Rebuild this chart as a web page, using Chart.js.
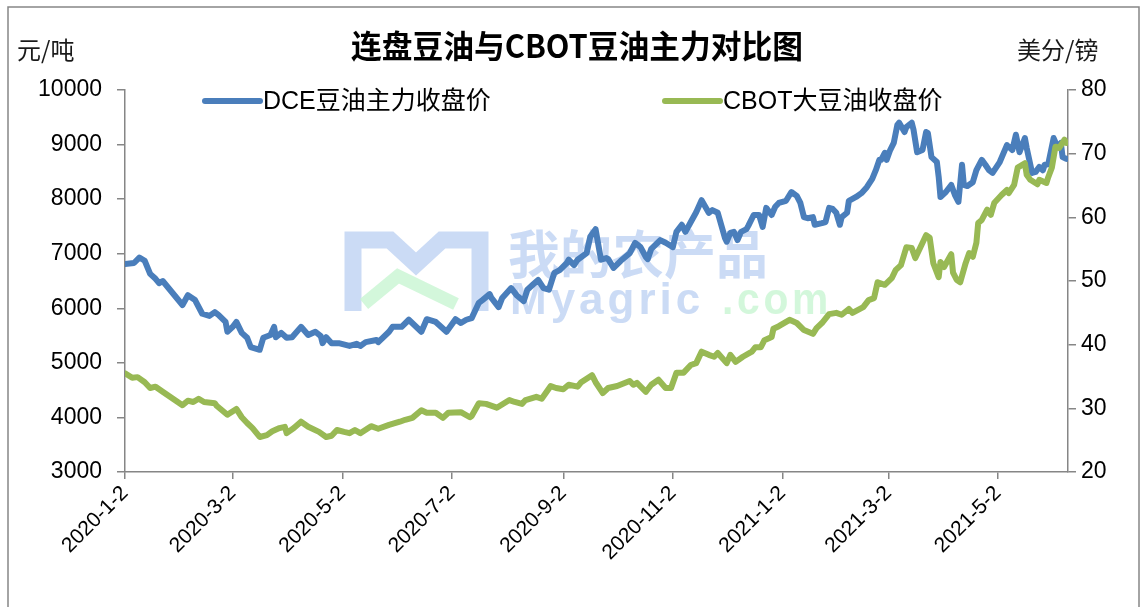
<!DOCTYPE html>
<html>
<head>
<meta charset="utf-8">
<script src="https://cdn.jsdelivr.net/npm/chart.js@4.4.0/dist/chart.umd.min.js"></script>
<style>
  html, body { margin: 0; padding: 0; background: #fff; }
  #wrap { width: 1144px; height: 607px; }
</style>
</head>
<body>
<div id="wrap"><canvas id="oilChart" width="1144" height="607"></canvas></div>
<script>
const titleText = '连盘豆油与CBOT豆油主力对比图';
const leftUnit = '元/吨';
const rightUnit = '美分/镑';
const seriesNames = ['DCE豆油主力收盘价', 'CBOT大豆油收盘价'];
const xTickLabels = ['2020-1-2', '2020-3-2', '2020-5-2', '2020-7-2', '2020-9-2', '2020-11-2', '2021-1-2', '2021-3-2', '2021-5-2'];
const xStart = '2020-1-2';
const xEnd = '2021-6-10';

// DCE soybean oil, yuan/ton
const dceDates = [
  '2020-1-2','2020-1-7','2020-1-10','2020-1-13','2020-1-16','2020-1-19','2020-1-21','2020-1-23',
  '2020-2-3','2020-2-6','2020-2-10','2020-2-14','2020-2-18','2020-2-21','2020-2-23','2020-2-27','2020-2-28',
  '2020-3-2','2020-3-4','2020-3-7','2020-3-10','2020-3-12','2020-3-17','2020-3-19','2020-3-23','2020-3-25','2020-3-26','2020-3-29',
  '2020-4-1','2020-4-4','2020-4-9','2020-4-13','2020-4-17','2020-4-20','2020-4-21','2020-4-23','2020-4-26','2020-4-30',
  '2020-5-6','2020-5-10','2020-5-12','2020-5-15','2020-5-21','2020-5-22','2020-5-28','2020-5-30',
  '2020-6-4','2020-6-8','2020-6-15','2020-6-18','2020-6-23','2020-6-29',
  '2020-7-4','2020-7-7','2020-7-10','2020-7-13','2020-7-17','2020-7-19','2020-7-23','2020-7-24','2020-7-28','2020-7-30',
  '2020-8-4','2020-8-7','2020-8-11','2020-8-13','2020-8-16','2020-8-19','2020-8-22','2020-8-25','2020-8-28','2020-8-31',
  '2020-9-4','2020-9-5','2020-9-8','2020-9-10','2020-9-15','2020-9-17','2020-9-20','2020-9-23','2020-9-26','2020-9-27','2020-9-30',
  '2020-10-4','2020-10-9','2020-10-12','2020-10-15','2020-10-18','2020-10-19','2020-10-21','2020-10-26','2020-10-29',
  '2020-11-2','2020-11-4','2020-11-7','2020-11-9','2020-11-12','2020-11-15','2020-11-18','2020-11-22','2020-11-24','2020-11-27',
  '2020-12-1','2020-12-2','2020-12-4','2020-12-6','2020-12-8','2020-12-10','2020-12-13','2020-12-14','2020-12-17','2020-12-20','2020-12-22','2020-12-24','2020-12-27','2020-12-29','2020-12-31',
  '2021-1-4','2021-1-7','2021-1-10','2021-1-12','2021-1-14','2021-1-16','2021-1-19','2021-1-20','2021-1-24','2021-1-26','2021-1-28','2021-1-30',
  '2021-2-1','2021-2-3','2021-2-4','2021-2-7','2021-2-8','2021-2-12','2021-2-15','2021-2-18','2021-2-21','2021-2-23','2021-2-25','2021-2-26','2021-2-28',
  '2021-3-1','2021-3-3','2021-3-5','2021-3-7','2021-3-8','2021-3-11','2021-3-12','2021-3-15','2021-3-16','2021-3-18','2021-3-21','2021-3-23','2021-3-24','2021-3-26','2021-3-29','2021-3-30','2021-3-31',
  '2021-4-3','2021-4-6','2021-4-8','2021-4-10','2021-4-12','2021-4-13','2021-4-15','2021-4-18','2021-4-20','2021-4-23','2021-4-25','2021-4-27','2021-4-29',
  '2021-5-3','2021-5-7','2021-5-10','2021-5-12','2021-5-14','2021-5-17','2021-5-18','2021-5-21','2021-5-23','2021-5-25','2021-5-27','2021-5-28','2021-5-30',
  '2021-6-2','2021-6-4','2021-6-6','2021-6-7','2021-6-9'
];
const dceValues = [
  6810,6830,6930,6870,6630,6540,6460,6500,
  6060,6240,6150,5900,5860,5930,5880,5750,5570,
  5660,5750,5550,5460,5290,5240,5460,5510,5660,5470,5550,
  5460,5470,5660,5510,5570,5490,5360,5470,5360,5360,
  5310,5350,5310,5380,5420,5380,5570,5660,
  5660,5790,5570,5800,5750,5570,
  5800,5730,5790,5820,6100,6150,6260,6190,6020,6190,
  6370,6240,6130,6340,6430,6520,6370,6340,6650,6700,
  6830,6890,6790,6890,7010,7310,7450,6890,6920,6900,6740,
  6870,7010,7200,7120,6940,6900,7090,7250,7200,
  7120,7400,7530,7400,7580,7760,7980,7750,7800,7750,
  7290,7220,7380,7400,7250,7400,7450,7510,7710,7710,7490,7840,7710,7860,7930,
  7970,8130,8060,7930,7670,7650,7670,7530,7560,7580,7840,7820,
  7750,7530,7670,7750,7970,8040,8110,8220,8370,8530,8720,8720,8850,
  8720,8900,9030,9360,9400,9230,9320,9400,9270,8860,8900,9230,9210,8770,8680,8410,8040,
  8130,8260,8080,7950,8630,8260,8240,8310,8530,8720,8630,8530,8480,
  8680,8990,8900,9180,8860,9120,8940,8480,8500,8590,8530,8630,8640,
  9120,8960,9030,8770,8740
];

// CBOT soybean oil, cents/lb
const cbotDates = [
  '2020-1-2','2020-1-6','2020-1-9','2020-1-13','2020-1-16','2020-1-19','2020-1-23',
  '2020-2-3','2020-2-6','2020-2-9','2020-2-12','2020-2-15','2020-2-21','2020-2-22','2020-2-28',
  '2020-3-4','2020-3-7','2020-3-10','2020-3-13','2020-3-17','2020-3-21','2020-3-24','2020-3-28','2020-3-31',
  '2020-4-1','2020-4-5','2020-4-9','2020-4-13','2020-4-19','2020-4-23','2020-4-26','2020-4-29',
  '2020-5-3','2020-5-6','2020-5-9','2020-5-12','2020-5-18','2020-5-22','2020-5-28',
  '2020-6-3','2020-6-6','2020-6-10','2020-6-15','2020-6-18','2020-6-23','2020-6-27','2020-6-30',
  '2020-7-7','2020-7-12','2020-7-13','2020-7-17','2020-7-21','2020-7-27',
  '2020-8-3','2020-8-6','2020-8-10','2020-8-12','2020-8-18','2020-8-21','2020-8-26','2020-8-29',
  '2020-9-2','2020-9-5','2020-9-10','2020-9-12','2020-9-18','2020-9-20','2020-9-24','2020-9-27',
  '2020-10-2','2020-10-9','2020-10-11','2020-10-13','2020-10-18','2020-10-21','2020-10-25','2020-10-29',
  '2020-11-1','2020-11-4','2020-11-8','2020-11-12','2020-11-15','2020-11-18','2020-11-22','2020-11-25','2020-11-27',
  '2020-12-2','2020-12-4','2020-12-7','2020-12-11','2020-12-16','2020-12-18','2020-12-21','2020-12-23','2020-12-27','2020-12-28','2020-12-31',
  '2021-1-6','2021-1-10','2021-1-14','2021-1-19','2021-1-21','2021-1-24','2021-1-28',
  '2021-2-1','2021-2-4','2021-2-8','2021-2-10','2021-2-16','2021-2-19','2021-2-22','2021-2-24','2021-2-28',
  '2021-3-4','2021-3-6','2021-3-9','2021-3-12','2021-3-15','2021-3-17','2021-3-23','2021-3-25','2021-3-27','2021-3-30','2021-3-31',
  '2021-4-2','2021-4-6','2021-4-7','2021-4-9','2021-4-11','2021-4-14','2021-4-16','2021-4-18','2021-4-20','2021-4-21','2021-4-23','2021-4-26','2021-4-28','2021-4-30',
  '2021-5-4','2021-5-7','2021-5-8','2021-5-11','2021-5-13','2021-5-17','2021-5-18','2021-5-20','2021-5-24','2021-5-25','2021-5-29','2021-5-30',
  '2021-6-1','2021-6-3','2021-6-5','2021-6-7','2021-6-8','2021-6-9'
];
const cbotValues = [
  35.5,34.8,34.9,34.1,33.2,33.4,32.6,
  30.5,31.2,31.0,31.5,31.0,30.8,30.4,29.0,
  29.9,28.6,27.7,26.9,25.5,25.8,26.4,26.9,27.1,
  26.1,26.9,27.9,27.1,26.3,25.5,25.7,26.6,
  26.3,26.1,26.6,26.1,27.2,26.8,27.4,
  27.9,28.2,28.5,29.7,29.3,29.3,28.5,29.3,
  29.4,28.6,28.8,30.8,30.7,30.1,
  31.3,31.0,30.7,31.3,31.8,31.5,33.5,33.2,
  33.0,33.7,33.4,34.1,35.2,34.1,32.4,33.2,
  33.5,34.3,33.7,34.0,32.6,33.7,34.5,33.2,
  33.2,35.6,35.6,36.8,37.1,38.9,38.4,38.1,38.7,
  37.1,38.4,37.3,38.1,38.9,39.6,39.6,40.7,41.2,42.5,42.9,
  43.9,43.4,42.3,41.7,42.6,43.4,44.8,
  45.0,44.7,45.6,45.0,45.9,47.0,47.3,49.8,49.4,
  50.5,51.7,52.5,55.3,55.2,53.6,57.2,56.8,52.8,50.6,53.0,
  52.2,54.2,51.3,50.2,49.8,52.8,54.4,53.8,56.0,59.1,59.6,61.2,60.4,62.3,
  63.5,64.3,63.8,65.1,67.8,68.5,66.7,65.9,65.2,65.9,65.4,66.3,
  67.8,71.1,70.9,71.7,72.2,71.7
];

const blue = '#4A7EBB';
const green = '#98B954';
const axisGray = '#868686';
const tickFont = { family: '"Liberation Sans", "DejaVu Sans", sans-serif', size: 23 };
const dateFont = { family: '"Liberation Sans", "DejaVu Sans", sans-serif', size: 21 };
const cjkFamily = '"Liberation Sans", "Noto Sans CJK SC", sans-serif';

function toDay(s) {
  const p = s.split('-').map(Number);
  const q = xStart.split('-').map(Number);
  return Math.round((Date.UTC(p[0], p[1] - 1, p[2]) - Date.UTC(q[0], q[1] - 1, q[2])) / 86400000);
}

const decor = {
  id: 'decor',
  beforeDraw(chart) {
    const ctx = chart.ctx;
    ctx.save();
    ctx.fillStyle = '#fff';
    ctx.fillRect(0, 0, chart.width, chart.height);
    ctx.strokeStyle = axisGray;
    ctx.lineWidth = 1.5;
    ctx.strokeRect(8, 7, 1131, 640);
    ctx.fillStyle = '#000';
    ctx.textBaseline = 'middle';
    ctx.textAlign = 'center';
    ctx.font = 'bold 32px "Noto Sans CJK SC", sans-serif';
    ctx.fillText(titleText, 577, 46, 452);
    ctx.textAlign = 'left';
    ctx.fillStyle = '#1a1a1a';
    ctx.font = '24px "Noto Sans CJK SC", sans-serif';
    ctx.fillText(leftUnit, 17, 50, 60);
    ctx.fillText(rightUnit, 1017, 50, 92);
    ctx.restore();
  },
  beforeDatasetsDraw(chart) {
    // faint site watermark
    const ctx = chart.ctx;
    ctx.save();
    const wmBlue = 'rgba(190,210,242,0.8)';
    const wmGreen = 'rgba(200,245,210,0.8)';
    ctx.strokeStyle = wmBlue;
    ctx.lineWidth = 17;
    ctx.lineJoin = 'miter';
    ctx.beginPath();
    ctx.moveTo(353, 311);
    ctx.lineTo(353, 240);
    ctx.lineTo(390, 240);
    ctx.lineTo(416, 264);
    ctx.lineTo(442, 240);
    ctx.lineTo(480, 240);
    ctx.lineTo(480, 311);
    ctx.stroke();
    ctx.strokeStyle = wmGreen;
    ctx.lineWidth = 13;
    ctx.beginPath();
    ctx.moveTo(364, 304);
    ctx.lineTo(398, 276);
    ctx.lineTo(456, 304);
    ctx.stroke();
    ctx.fillStyle = wmBlue;
    ctx.textBaseline = 'alphabetic';
    ctx.textAlign = 'left';
    ctx.font = 'bold 52px "Noto Sans CJK SC", sans-serif';
    ctx.fillText('我的农产品', 508, 274, 322);
    ctx.font = 'bold 44px "Liberation Sans", sans-serif';
    ctx.letterSpacing = '4px';
    ctx.fillText('Myagric', 510, 314, 208);
    ctx.fillStyle = wmGreen;
    ctx.fillText('.com', 722, 314, 110);
    ctx.restore();
  },
  afterDatasetsDraw(chart) {
    const ctx = chart.ctx;
    const items = [
      { x: 205, color: blue, text: seriesNames[0] },
      { x: 665, color: green, text: seriesNames[1] }
    ];
    ctx.save();
    ctx.lineCap = 'round';
    ctx.textBaseline = 'middle';
    ctx.textAlign = 'left';
    ctx.font = '25px ' + cjkFamily;
    items.forEach(it => {
      ctx.strokeStyle = it.color;
      ctx.lineWidth = 6;
      ctx.beginPath();
      ctx.moveTo(it.x, 101);
      ctx.lineTo(it.x + 55, 101);
      ctx.stroke();
      ctx.fillStyle = '#000';
      ctx.fillText(it.text, it.x + 58, 102);
    });
    ctx.restore();
  }
};

new Chart(document.getElementById('oilChart'), {
  type: 'line',
  plugins: [decor],
  data: {
    datasets: [
      {
        label: seriesNames[0],
        data: dceDates.map((d, i) => ({ x: toDay(d), y: dceValues[i] })),
        yAxisID: 'y',
        borderColor: blue,
        borderWidth: 6,
        pointRadius: 0,
        tension: 0,
        borderCapStyle: 'round',
        borderJoinStyle: 'round',
        order: 2
      },
      {
        label: seriesNames[1],
        data: cbotDates.map((d, i) => ({ x: toDay(d), y: cbotValues[i] })),
        yAxisID: 'y1',
        borderColor: green,
        borderWidth: 6,
        pointRadius: 0,
        tension: 0,
        borderCapStyle: 'round',
        borderJoinStyle: 'round',
        order: 1
      }
    ]
  },
  options: {
    responsive: false,
    devicePixelRatio: 1,
    animation: false,
    layout: { padding: { top: 90, left: 0, right: 0, bottom: 0 } },
    plugins: {
      legend: { display: false },
      title: { display: false },
      tooltip: { enabled: false }
    },
    scales: {
      x: {
        type: 'linear',
        min: 0,
        max: toDay(xEnd),
        afterBuildTicks: s => { s.ticks = xTickLabels.map(l => ({ value: toDay(l) })); },
        afterFit: s => { s.height = 135; },
        ticks: {
          autoSkip: false,
          maxRotation: 45,
          minRotation: 45,
          padding: 2,
          color: '#000',
          font: dateFont,
          callback: v => xTickLabels.find(l => toDay(l) === v) || ''
        },
        grid: { drawOnChartArea: false, tickLength: 7, color: axisGray, lineWidth: 1.5 },
        border: { color: axisGray, width: 1.5 }
      },
      y: {
        position: 'left',
        min: 3000,
        max: 10000,
        afterFit: s => { s.width = 125; },
        ticks: { stepSize: 1000, padding: 15, color: '#000', font: tickFont, callback: v => String(v) },
        grid: { drawOnChartArea: false, tickLength: 8, color: axisGray, lineWidth: 1.5 },
        border: { color: axisGray, width: 1.5 }
      },
      y1: {
        position: 'right',
        min: 20,
        max: 80,
        afterFit: s => { s.width = 76; },
        ticks: { stepSize: 10, padding: 5, color: '#000', font: tickFont, callback: v => String(v) },
        grid: { drawOnChartArea: false, tickLength: 8, color: axisGray, lineWidth: 1.5 },
        border: { color: axisGray, width: 1.5 }
      }
    }
  }
});
</script>
</body>
</html>
